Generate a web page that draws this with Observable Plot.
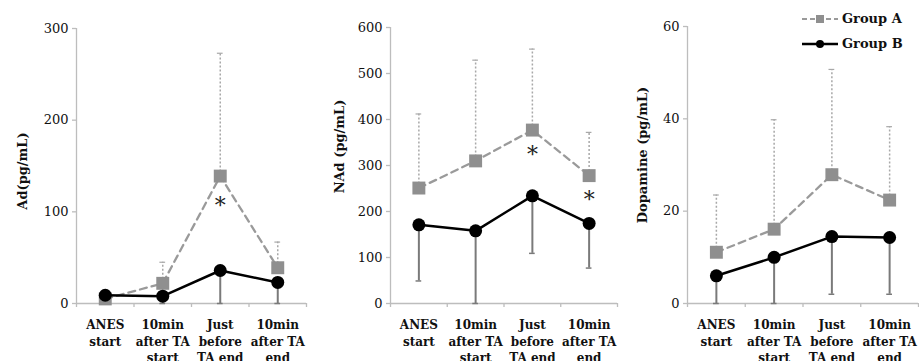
<!DOCTYPE html>
<html><head><meta charset="utf-8">
<script src="https://cdn.jsdelivr.net/npm/d3@7"></script>
<script src="https://cdn.jsdelivr.net/npm/@observablehq/plot@0.6"></script>
<style>
body{margin:0;background:#fff;overflow:hidden}
#wrap{position:relative;width:919px;height:361px;overflow:hidden}
.panel{position:absolute;top:0}
#legend{position:absolute;left:800px;top:6px;font-family:"DejaVu Serif";font-size:13px;font-weight:bold;color:#111}
#legend .row{display:flex;align-items:center;height:25px}
#legend svg{margin-right:2px}
</style></head><body><div id="wrap"></div>
<script>
// ---- data ----
const categories = ["ANES\nstart", "10min\nafter TA\nstart", "Just\nbefore\nTA end", "10min\nafter TA\nend"];
const groups = ["Group A", "Group B"];

// Ad (pg/mL)
const adMeanA = [5, 22, 139, 39];
const adSdA   = [4, 23, 134, 28];
const adMeanB = [9, 8, 36, 23];
const adSdB   = [9, 8, 40, 25];
const adTicks = [0, 100, 200, 300];
const adStars = [{i: 2, v: 112}];

// NAd (pg/mL)
const nadMeanA = [251, 310, 377, 278];
const nadSdA   = [161, 219, 176, 94];
const nadMeanB = [171, 158, 234, 174];
const nadSdB   = [122, 160, 125, 97];
const nadTicks = [0, 100, 200, 300, 400, 500, 600];
const nadStars = [{i: 2, v: 333}, {i: 3, v: 235}];

// Dopamine (pg/mL)
const dopMeanA = [11.1, 16.1, 27.9, 22.4];
const dopSdA   = [12.4, 23.7, 22.8, 15.9];
const dopMeanB = [6.0, 10.0, 14.5, 14.3];
const dopSdB   = [7.0, 11.0, 12.5, 12.3];
const dopTicks = [0, 20, 40, 60];
const dopStars = [];

const wrap = document.getElementById("wrap");
const axisColor = "#bdbdbd";
const colA = "#8f8f8f";

function panel({meanA, sdA, meanB, sdB, ticks, label, stars, left, width, marginLeft, marginRight, marginTop, labelX, labelDy}) {
  const rows = categories.map((c, i) => ({
    pos: i + 0.5, cat: c,
    a: meanA[i], aTop: meanA[i] + sdA[i],
    b: meanB[i], bLow: Math.max(0, meanB[i] - sdB[i])
  }));
  const cap = 0.05;
  const yMax = ticks[ticks.length - 1];
  const plot = Plot.plot({
    width, height: 361, marginLeft, marginRight, marginTop, marginBottom: 58,
    x: {domain: [0, categories.length], axis: null},
    y: {domain: [0, yMax], axis: null},
    style: {fontFamily: "DejaVu Serif", fontSize: "13px", color: "#111", background: "transparent", overflow: "visible"},
    marks: [
      Plot.ruleX([0], {stroke: axisColor, strokeWidth: 1.3}),
      Plot.ruleY([0], {stroke: axisColor, strokeWidth: 1.3}),
      Plot.axisX({ticks: d3.range(categories.length + 1), tickFormat: () => "", tickSize: 4, stroke: axisColor, strokeWidth: 1.3, label: null}),
      Plot.axisY({ticks, tickSize: 4, tickPadding: 4, stroke: axisColor, strokeWidth: 1.3, label: null, fill: "#111"}),
      Plot.text([label], {frameAnchor: "left", textAnchor: "middle", dx: labelX - marginLeft, dy: labelDy, rotate: -90, fontWeight: "bold", fill: "#111"}),
      Plot.text(rows, {x: "pos", frameAnchor: "bottom", text: "cat", lineAnchor: "top", dy: 14, lineHeight: 1.37, fontSize: 12, fontWeight: "bold", fill: "#111"}),
      // error bars
      Plot.ruleX(rows, {x: "pos", y1: "a", y2: "aTop", stroke: "#a8a8a8", strokeWidth: 1.5, strokeDasharray: "2,2"}),
      Plot.ruleY(rows, {y: "aTop", x1: d => d.pos - cap, x2: d => d.pos + cap, stroke: "#a8a8a8", strokeWidth: 1.2}),
      Plot.ruleX(rows, {x: "pos", y1: "bLow", y2: "b", stroke: "#7a7a7a", strokeWidth: 2}),
      Plot.ruleY(rows, {y: "bLow", x1: d => d.pos - cap, x2: d => d.pos + cap, stroke: "#7a7a7a", strokeWidth: 1.5}),
      // Group A
      Plot.line(rows, {x: "pos", y: "a", stroke: "#9a9a9a", strokeWidth: 2.3, strokeDasharray: "7,5"}),
      Plot.dot(rows, {x: "pos", y: "a", symbol: "square", r: 7.3, fill: colA, stroke: "none"}),
      // Group B
      Plot.line(rows, {x: "pos", y: "b", stroke: "#000", strokeWidth: 2.5}),
      Plot.dot(rows, {x: "pos", y: "b", symbol: "circle", r: 6.5, fill: "#000", stroke: "none"}),
      // significance
      Plot.text(stars, {x: d => d.i + 0.5, y: "v", text: () => "*", fontSize: 22, dy: 5, fill: "#222", stroke: "white", strokeWidth: 5})
    ]
  });
  plot.classList.add("panel");
  plot.style.left = left + "px";
  wrap.appendChild(plot);
}

panel({meanA: adMeanA, sdA: adSdA, meanB: adMeanB, sdB: adSdB, ticks: adTicks, label: "Ad(pg/mL)", stars: adStars,
  left: 0, width: 310, marginLeft: 76, marginRight: 4, marginTop: 28, labelX: 22, labelDy: 5});
panel({meanA: nadMeanA, sdA: nadSdA, meanB: nadMeanB, sdB: nadSdB, ticks: nadTicks, label: "NAd (pg/mL)", stars: nadStars,
  left: 310, width: 310, marginLeft: 80, marginRight: 3, marginTop: 27, labelX: 29, labelDy: -19});
panel({meanA: dopMeanA, sdA: dopSdA, meanB: dopMeanB, sdB: dopSdB, ticks: dopTicks, label: "Dopamine (pg/mL)", stars: dopStars,
  left: 620, width: 299, marginLeft: 67, marginRight: 1, marginTop: 26, labelX: 22, labelDy: -10});

// legend
const legend = document.createElement("div");
legend.id = "legend";
legend.innerHTML =
  `<div class="row"><svg width="40" height="12"><line x1="2" y1="6" x2="38" y2="6" stroke="#9a9a9a" stroke-width="2" stroke-dasharray="5,3"/><rect x="16" y="2" width="8" height="8" fill="${colA}"/></svg><span>${groups[0]}</span></div>` +
  `<div class="row"><svg width="40" height="12"><line x1="2" y1="6" x2="38" y2="6" stroke="#000" stroke-width="2.5"/><circle cx="20" cy="6" r="4" fill="#000"/></svg><span>${groups[1]}</span></div>`;
wrap.appendChild(legend);
</script>
</body></html>
